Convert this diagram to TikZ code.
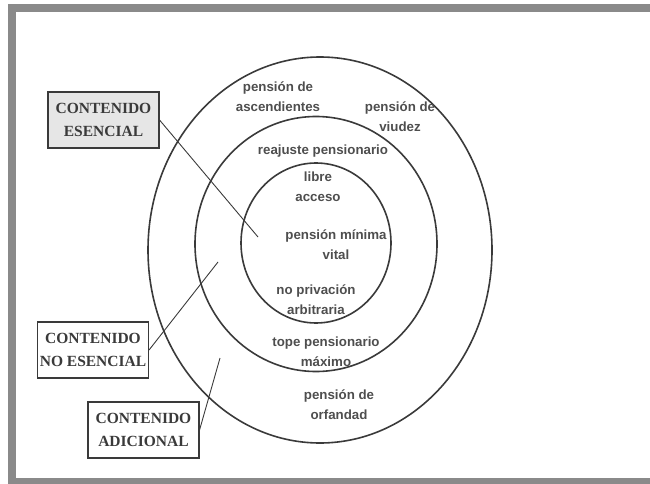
\documentclass[tikz,border=0pt]{standalone}
\usepackage{fontspec}
\usepackage{xcolor}
\usepackage{tikz}
\usetikzlibrary{shapes.geometric, positioning}
\newfontfamily\itemfont{Liberation Sans}
\newfontfamily\boxfont{Liberation Serif}
\definecolor{framegray}{HTML}{8A8A8A}
\definecolor{inkgray}{HTML}{3A3A3A}
\definecolor{boxfill}{HTML}{E6E6E6}

\begin{document}
\begin{tikzpicture}[x=1pt, y=-1pt,
  ring/.style={ellipse, draw=inkgray, line width=1.6pt, inner sep=0pt},
  label/.style={rectangle, draw=inkgray, line width=1.1pt, minimum width=111pt, minimum height=56pt, align=center, inner sep=2pt, font=\boxfont\bfseries\fontsize{15.5}{23}\selectfont, text=inkgray},
  item/.style={align=center, inner sep=0pt, font=\itemfont\bfseries\fontsize{13.3}{20}\selectfont, text=inkgray!90},
  line/.style={draw=inkgray, line width=0.9pt}
]
  \useasboundingbox (0,0) rectangle (650,484);
  % frame
  \fill[framegray] (8,4) rectangle (650,12);
  \fill[framegray] (8,4) rectangle (16,484);
  \fill[framegray] (8,478) rectangle (650,484);

  \node[ring, minimum width=344pt, minimum height=386pt] (outer) at (320,250) {};
  \node[ring, minimum width=242pt, minimum height=255pt] (middle) at (316,244) {};
  \node[ring, minimum width=150pt, minimum height=160pt] (inner) at (316,243) {};

  \node[label, fill=boxfill] (ess)  at (103.5,120) {CONTENIDO\\ESENCIAL};
  \node[label, fill=white]   (noess) at (93,350)   {CONTENIDO\\NO ESENCIAL};
  \node[label, fill=white]   (adic) at (143.5,430) {CONTENIDO\\ADICIONAL};

  \node[item] (asc)  at (278,97)  {pensión de\\ascendientes};
  \node[item] (viu)  at (400,117) {pensión de\\viudez};
  \node[item] (rea)  at (323,151) {reajuste pensionario};
  \node[item] (lib)  at (318,187) {libre\\acceso};
  \node[item] (min)  at (336,245) {pensión mínima\\vital};
  \node[item] (priv) at (316,300) {no privación\\arbitraria};
  \node[item] (tope) at (326,352) {tope pensionario\\máximo};
  \node[item] (orf)  at (339,405) {pensión de\\orfandad};

  \coordinate (essend)   at (258,237);
  \coordinate (noessend) at (218,262);
  \coordinate (adicend)  at (220,358);

  \path[line] (ess.east) -- (essend);
  \path[line] (noess.east) -- (noessend);
  \path[line] (adic.east) -- (adicend);
\end{tikzpicture}
\end{document}
